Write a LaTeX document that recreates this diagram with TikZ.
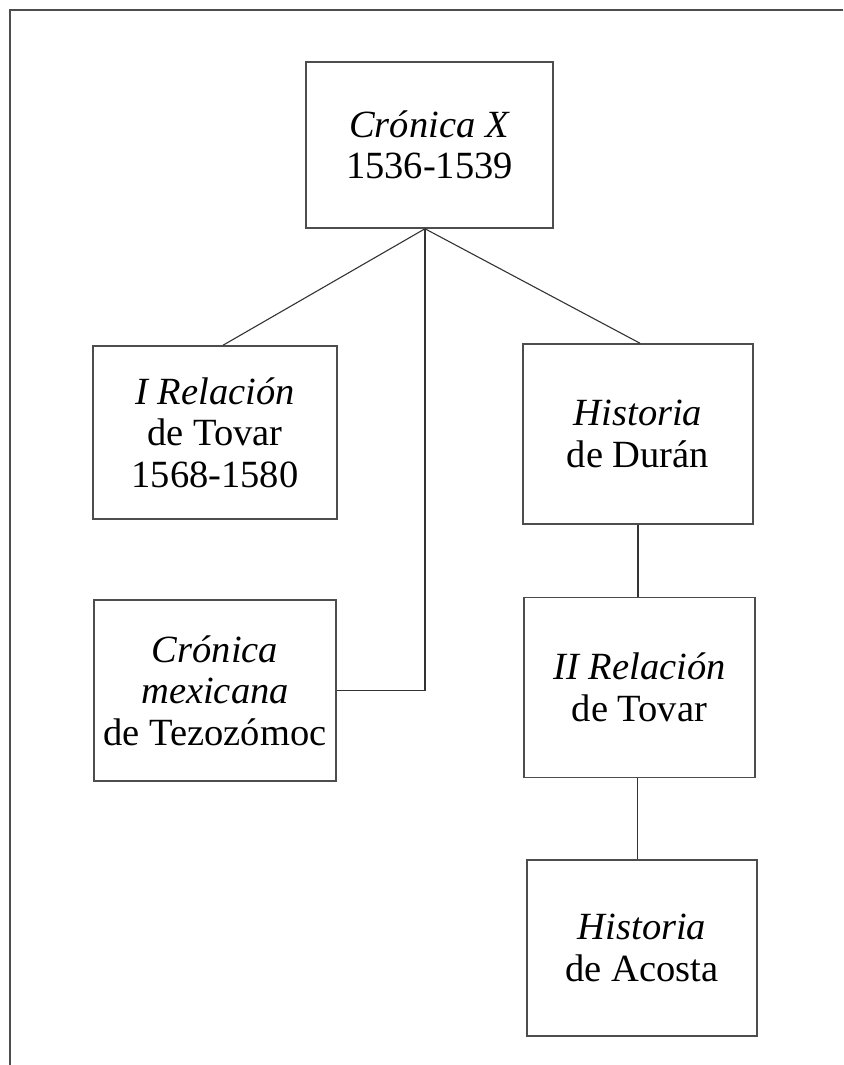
\documentclass[tikz,border=0pt]{standalone}
\usepackage{fontspec}
\setmainfont{Liberation Serif}
\usepackage{tikz}
\usetikzlibrary{positioning}
\definecolor{linea}{HTML}{4D4D4D}
\tikzset{
	fuente box/.style={
		draw=linea, line width=1.5pt,
		inner sep=0pt, align=center,
		font=\fontsize{38.5}{41.5}\selectfont
	},
	rama/.style={
		draw=black!80, line width=1.1pt
	},
	marco/.style={
		draw=linea, line width=2.2pt
	}
}

\begin{document}
\begin{tikzpicture}[x=1pt, y=-1pt, node distance=72pt]
	\useasboundingbox (0,0) rectangle (843,1065);
	\draw[marco] (10,1065) -- (10,10) -- (843,10);
	
	\node[fuente box, minimum width=247pt, minimum height=166pt] (CX) at (429.5,145) {%
		\textit{Crónica X}\\1536-1539
	};
	\node[fuente box, minimum width=244pt, minimum height=173pt] (RI) at (215,432.5) {%
		\textit{I Relación}\\de Tovar\\1568-1580
	};
	\node[fuente box, minimum width=242pt, minimum height=181pt] (CM) at (215,690.5) {%
		\textit{Crónica}\\\textit{mexicana}\\de Tezozómoc
	};
	
	% columna derecha
	\node[fuente box, minimum width=230pt, minimum height=180pt] (HD) at (638,434) {%
		\textit{Historia}\\de Durán
	};
	\node[fuente box, minimum width=231pt, minimum height=180pt, below=of HD, xshift=1.5pt] (RII) {%
		\textit{II Relación}\\de Tovar
	};
	\node[fuente box, minimum width=230pt, minimum height=176pt, below=81pt of RII, xshift=2.5pt] (HA) {%
		\textit{Historia}\\de Acosta
	};
	
	\coordinate (CX-S) at ([xshift=-4.5pt]CX.south);
	\draw[rama] (CX-S) -- ([xshift=8pt]RI.north);
	\draw[rama] (CX-S) -- ([xshift=2pt]HD.north);
	\draw[rama] (CX-S) |- (CM.east);
	\draw[rama] (HD.south) -- (HD.south |- RII.north);
	\draw[rama] ([xshift=-2pt]RII.south) -- ([xshift=-2pt]RII.south |- HA.north);
\end{tikzpicture}
\end{document}
